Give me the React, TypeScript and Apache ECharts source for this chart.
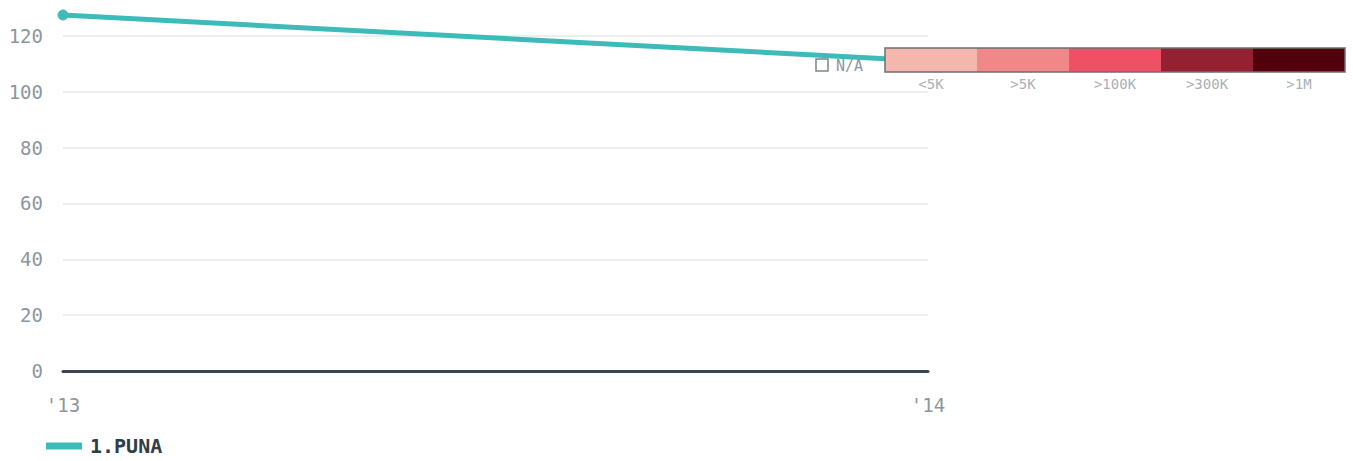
import React, { useEffect, useRef } from "react";
import * as echarts from "echarts";

const categories = ["'13", "'14"];
const punaValues = [127.5, 111];
const seriesName = "1.PUNA";
const yTicks = { min: 0, interval: 20 };
const scaleLabels = ["<5K", ">5K", ">100K", ">300K", ">1M"];
const scaleColors = ["#f4b7ae", "#f08789", "#ef5065", "#932131", "#51000c"];
const naLabel = "N/A";

const FONT = "'DejaVu Sans Mono', monospace";

export default function App() {
  const ref = useRef<HTMLDivElement>(null);
  useEffect(() => {
    document.body.style.margin = "0";
    const chart = echarts.init(ref.current!, null, { renderer: "svg" });
    const boxX = 885, boxY = 48, boxW = 460, boxH = 24;
    const segW = boxW / scaleColors.length;
    const graphics: any[] = [];
    scaleColors.forEach((c, i) => {
      graphics.push({
        type: "rect",
        shape: { x: boxX + i * segW, y: boxY, width: segW, height: boxH },
        style: { fill: c },
        z: 10,
      });
      graphics.push({
        type: "text",
        x: boxX + i * segW + segW / 2,
        y: boxY + boxH + 12,
        style: {
          text: scaleLabels[i],
          fill: "#a9b0b5",
          font: `14px ${FONT}`,
          align: "center",
          verticalAlign: "middle",
        },
        z: 10,
      });
    });
    graphics.push({
      type: "rect",
      shape: { x: boxX, y: boxY, width: boxW, height: boxH },
      style: { fill: "none", stroke: "#6b6f72", lineWidth: 1.5 },
      z: 11,
    });
    graphics.push({
      type: "rect",
      shape: { x: 816, y: 59, width: 12, height: 12 },
      style: { fill: "#fff", stroke: "#7d868b", lineWidth: 1.5 },
      z: 10,
    });
    graphics.push({
      type: "text",
      x: 836,
      y: 66,
      style: {
        text: naLabel,
        fill: "#8c969c",
        font: `15px ${FONT}`,
        verticalAlign: "middle",
      },
      z: 10,
    });

    chart.setOption({
      animation: false,
      grid: { left: 63, right: 425, top: 15, bottom: 90 },
      xAxis: {
        type: "category",
        data: categories,
        boundaryGap: false,
        axisLine: { show: true, lineStyle: { color: "#37474f", width: 3 } },
        axisTick: { show: false },
        axisLabel: {
          color: "#8c969c",
          fontFamily: FONT,
          fontSize: 19,
          margin: 24,
        },
        splitLine: { show: false },
      },
      yAxis: {
        type: "value",
        min: yTicks.min,
        max: "dataMax",
        interval: yTicks.interval,
        axisLine: { show: false },
        axisTick: { show: false },
        axisLabel: {
          color: "#8c969c",
          fontFamily: FONT,
          fontSize: 19,
          margin: 20,
          showMaxLabel: false,
        },
        splitLine: {
          show: true,
          showMaxLine: false,
          lineStyle: { color: "#e8e8e8", width: 1.5 },
        },
      },
      legend: {
        left: 41,
        top: 431,
        icon: "rect",
        itemWidth: 34,
        itemHeight: 5,
        itemGap: 10,
        textStyle: {
          color: "#2f3d45",
          fontFamily: FONT,
          fontWeight: "bold",
          fontSize: 20,
          padding: [0, 0, 0, 4],
        },
        data: [seriesName],
      },
      series: [
        {
          name: seriesName,
          type: "line",
          data: punaValues,
          showSymbol: true,
          symbol: "circle",
          symbolSize: 10,
          lineStyle: { color: "#3dbbb8", width: 5 },
          itemStyle: { color: "#3dbbb8", borderColor: "#3dbbb8", borderWidth: 1 },
          z: 3,
        },
      ],
      graphic: graphics,
    });
    return () => chart.dispose();
  }, []);
  return <div ref={ref} style={{ width: 1353, height: 461 }} />;
}
